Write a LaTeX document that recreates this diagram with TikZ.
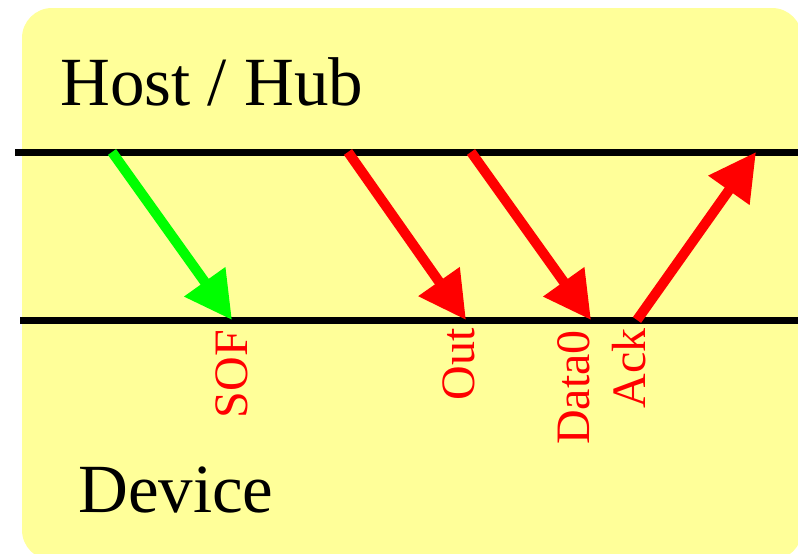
\documentclass[tikz,border=0pt]{standalone}
\usepackage{fontspec}
\setmainfont{Liberation Serif}
\usetikzlibrary{arrows.meta}
\definecolor{padyellow}{RGB}{255,255,153}
\definecolor{sigred}{RGB}{255,0,0}
\definecolor{sofgreen}{RGB}{0,255,0}
\tikzset{
    bus/.style={line width=7pt},
    packet/.style={line width=10pt, -{Triangle[length=47pt,width=48pt]}},
    side/.style={anchor=base west, inner sep=0pt, font=\fontsize{69}{80}\selectfont},
    pid/.style={rotate=90, anchor=base east, inner sep=0pt, text=sigred, font=\fontsize{48}{52}\selectfont}
}

\begin{document}
\begin{tikzpicture}[x=1pt,y=-1pt]
\useasboundingbox (0,0) rectangle (798,554);
\clip (0,0) rectangle (798,554);
\fill[padyellow, rounded corners=30pt] (22,8) rectangle (802,560);

\draw[bus] (15,152) -- (798,152);
\draw[bus] (20,320) -- (798,320);

\node[side] (host) at (60,105) {Host / Hub};
\node[side] (device) at (78,512) {Device};

\coordinate (sofFrom) at (112,152);
\coordinate (sofTo) at (232,320);
\coordinate (outFrom) at (348,152);
\coordinate (outTo) at (466,320);
\coordinate (dataFrom) at (471,152);
\coordinate (dataTo) at (591,320);
\coordinate (ackFrom) at (637,320);
\coordinate (ackTo) at (756,152);

\draw[packet, sofgreen] (sofFrom) -- (sofTo);
\draw[packet, sigred] (outFrom) -- (outTo);
\draw[packet, sigred] (dataFrom) -- (dataTo);
\draw[packet, sigred] (ackFrom) -- (ackTo);

\node[pid] (sof) at (247,330) {SOF};
\node[pid] (out) at (474,328) {Out};
\node[pid] (data) at (589,330) {Data0};
\node[pid] (ack) at (645,328) {Ack};
\end{tikzpicture}
\end{document}
